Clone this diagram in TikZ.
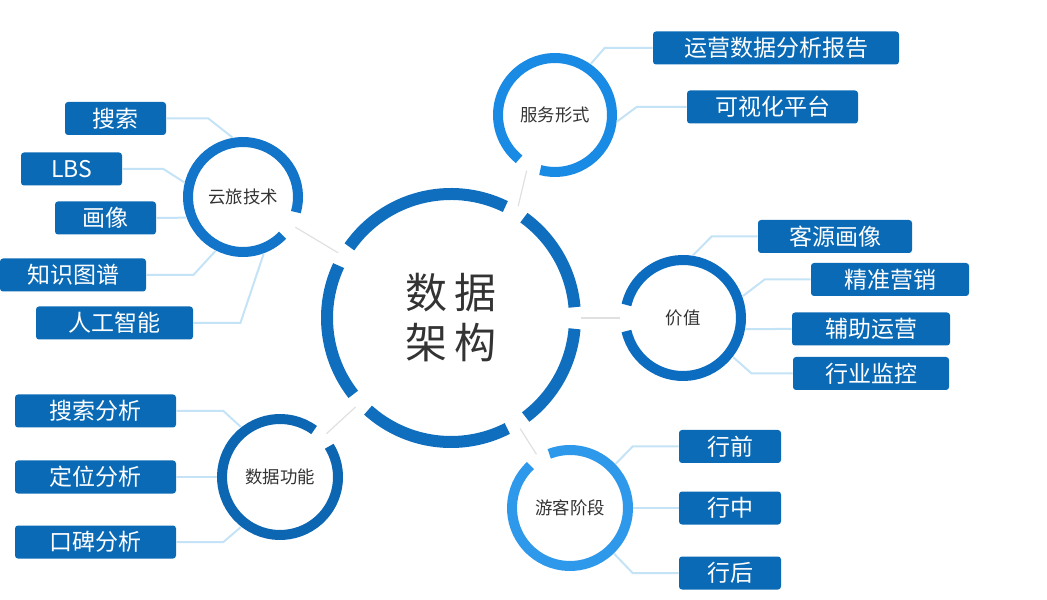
\documentclass[tikz,border=0pt]{standalone}
\usepackage{fontspec}
\setmainfont{Noto Sans CJK SC}
\usepackage{xcolor}
\usetikzlibrary{positioning,calc}
\definecolor{CoreBlue}{HTML}{0F6FBE}
\definecolor{YunBlue}{HTML}{1275C9}
\definecolor{FuwuBlue}{HTML}{1A8BE5}
\definecolor{JiazhiBlue}{HTML}{0B6CC0}
\definecolor{YoukeBlue}{HTML}{2E98EA}
\definecolor{GongnengBlue}{HTML}{0C66B2}
\definecolor{BoxBlue}{HTML}{0A6AB5}
\definecolor{BranchBlue}{HTML}{C5E3F6}
\definecolor{LinkGray}{HTML}{E0E0E0}
\definecolor{TextDark}{HTML}{333333}
\tikzset{
  corenode/.style={circle,minimum size=130pt,inner sep=0pt,align=center,text=TextDark,font=\fontsize{21}{25}\selectfont},
  topicnode/.style={circle,inner sep=0pt,text=TextDark,font=\fontsize{8.7}{10}\selectfont},
  labelbox/.style={fill=BoxBlue,rounded corners=1.5pt,minimum height=16.5pt,inner sep=0pt,text=white,font=\fontsize{11.5}{13}\selectfont},
  branch/.style={draw=BranchBlue,line width=1pt},
  linkline/.style={draw=LinkGray,line width=0.6pt}
}
\begin{document}
\begin{tikzpicture}[x=0.5pt,y=0.5pt]
\useasboundingbox (0,0) rectangle (1047,599);
% core ring
\node[corenode] (core) at (451,281) {数\hspace{4pt}据\\架\hspace{4pt}构};
\foreach \s/\e in {-132/-63,-53/-5,5/54,64/145,155/218}
  \draw[CoreBlue,line width=6pt] ([shift={(\s:124)}]core.center) arc[start angle=\s,end angle=\e,radius=124];

% topics
\node[topicnode,minimum size=60pt] (yun) at (243,402) {云旅技术};
\node[topicnode,minimum size=62pt] (fuwu) at (555,484) {服务形式};
\node[topicnode,minimum size=63pt] (jiazhi) at (683,281) {价值};
\node[topicnode,minimum size=63pt] (youke) at (570,91) {游客阶段};
\node[topicnode,minimum size=63pt] (gongneng) at (280,122) {数据功能};
\foreach \n/\a/\g/\r/\c in {yun/-30/28/55/YunBlue,fuwu/243/24/57/FuwuBlue,jiazhi/180/26/58/JiazhiBlue,youke/122/22/58/YoukeBlue,gongneng/43/22/58/GongnengBlue}{
  \pgfmathsetmacro{\sa}{\a+\g/2}
  \pgfmathsetmacro{\ea}{\a+360-\g/2}
  \draw[\c,line width=5pt] ([shift={(\sa:\r)}]\n.center) arc[start angle=\sa,end angle=\ea,radius=\r];
}

% links to core
\draw[linkline] (yun.-30) -- (core.150);
\draw[linkline] (fuwu.243) -- (core.59);
\draw[linkline] (jiazhi.180) -- (core.0);
\draw[linkline] (youke.122) -- (core.-58);
\draw[linkline] (gongneng.43) -- (core.-137);

% 云旅技术
\node[labelbox,minimum width=50.5pt] (sousuo) at (115.5,480.5) {搜索};
\node[labelbox,minimum width=50.5pt] (lbs) at (71.5,430) {LBS};
\node[labelbox,minimum width=50.5pt] (huaxiang) at (105.5,381) {画像};
\node[labelbox,minimum width=73pt] (zhishi) at (73,324) {知识图谱};
\node[labelbox,minimum width=78.5pt] (rengong) at (114.5,276) {人工智能};
\draw[branch] (sousuo.east) -- ++(42,0) -- (yun.100);
\draw[branch] (lbs.east) -- ++(41,0) -- (yun.166);
\draw[branch] (huaxiang.east) -- (yun.200);
\draw[branch] (zhishi.east) -- ++(47,0) -- (yun.243);
\draw[branch] (rengong.east) -- ++(47,0) -- (yun.290);

% 服务形式
\node[labelbox,minimum width=123pt] (baogao) at (776,551) {运营数据分析报告};
\node[labelbox,minimum width=85.5pt] (pingtai) at (772.5,492) {可视化平台};
\draw[branch] (baogao.west) -- ++(-48,0) -- (fuwu.55);
\draw[branch] (pingtai.west) -- ++(-50,0) -- (fuwu.354);

% 价值
\node[labelbox,minimum width=77pt] (keyuan) at (835,362.5) {客源画像};
\node[labelbox,minimum width=79pt] (jingzhun) at (890,319.5) {精准营销};
\node[labelbox,minimum width=79pt] (fuzhu) at (871,270) {辅助运营};
\node[labelbox,minimum width=78pt] (jiankong) at (871,225.5) {行业监控};
\draw[branch] (keyuan.west) -- ++(-46,0) -- (jiazhi.81);
\draw[branch] (jingzhun.west) -- ++(-46,0) -- (jiazhi.20);
\draw[branch] (fuzhu.west) -- (jiazhi.-10);
\draw[branch] (jiankong.west) -- ++(-41,0) -- (jiazhi.-38);

% 游客阶段
\node[labelbox,minimum width=51pt] (xingqian) at (730,152.5) {行前};
\node[labelbox,minimum width=51pt] (xingzhong) at (730,91) {行中};
\node[labelbox,minimum width=51pt] (xinghou) at (730,26) {行后};
\draw[branch] (xingqian.west) -- ++(-46,0) -- (youke.44);
\draw[branch] (xingzhong.west) -- (youke.east);
\draw[branch] (xinghou.west) -- ++(-46,0) -- (youke.-46);

% 数据功能
\node[labelbox,minimum width=80.5pt] (ssfx) at (95.5,188) {搜索分析};
\node[labelbox,minimum width=80.5pt] (dwfx) at (95.5,122) {定位分析};
\node[labelbox,minimum width=80.5pt] (kbfx) at (95.5,57) {口碑分析};
\draw[branch] (ssfx.east) -- ++(47,0) -- (gongneng.128);
\draw[branch] (dwfx.east) -- (gongneng.west);
\draw[branch] (kbfx.east) -- ++(47,0) -- (gongneng.232);
\end{tikzpicture}
\end{document}
